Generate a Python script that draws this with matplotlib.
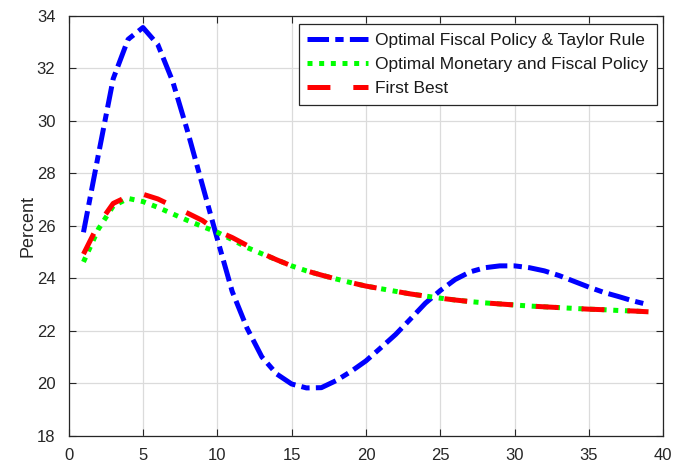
import matplotlib
matplotlib.use("Agg")
import matplotlib.pyplot as plt
import numpy as np

plt.rcParams['font.family'] = ['Liberation Sans', 'DejaVu Sans']
plt.rcParams['lines.scale_dashes'] = False

periods = list(range(1, 40))

taylor_rule = [25.75, 28.7, 31.6, 33.1, 33.55, 32.9, 31.5, 29.6, 27.55, 25.5,
               23.5, 22.1, 21.0, 20.35, 19.97, 19.82, 19.83, 20.1, 20.45, 20.85,
               21.35, 21.86, 22.45, 23.05, 23.53, 23.95, 24.24, 24.4, 24.47, 24.47,
               24.4, 24.28, 24.1, 23.88, 23.66, 23.46, 23.3, 23.13, 22.99]

optimal_mf = [24.62, 25.87, 26.75, 27.04, 26.92, 26.7, 26.45, 26.2, 25.97, 25.75,
              25.47, 25.17, 24.93, 24.7, 24.47, 24.28, 24.12, 23.97, 23.83, 23.7,
              23.6, 23.5, 23.4, 23.32, 23.24, 23.17, 23.11, 23.06, 23.02, 22.98,
              22.94, 22.91, 22.88, 22.85, 22.82, 22.8, 22.77, 22.75, 22.72]

first_best = [24.92, 26.05, 26.85, 27.12, 27.2, 27.02, 26.75, 26.48, 26.2, 25.8,
              25.55, 25.25, 24.95, 24.7, 24.47, 24.28, 24.12, 23.97, 23.83, 23.7,
              23.6, 23.5, 23.4, 23.32, 23.24, 23.17, 23.11, 23.06, 23.02, 22.98,
              22.94, 22.91, 22.88, 22.85, 22.82, 22.8, 22.77, 22.75, 22.72]

labels = ["Optimal Fiscal Policy & Taylor Rule",
          "Optimal Monetary and Fiscal Policy",
          "First Best"]

x_ticks = [0, 5, 10, 15, 20, 25, 30, 35, 40]
y_ticks = [18, 20, 22, 24, 26, 28, 30, 32, 34]

fig = plt.figure(figsize=(6.74, 4.65), dpi=100)
ax = fig.add_axes([0.1018, 0.063, 0.8823, 0.9032])

dark = (0.15, 0.15, 0.15)
lw = 3.6
ax.plot(periods, taylor_rule, color=(0, 0, 1), lw=lw, linestyle=(0, (15.5, 4.5, 6.0, 4.5)),
        solid_capstyle='butt', dash_capstyle='butt', label=labels[0], zorder=3)
ax.plot(periods, optimal_mf, color=(0, 1, 0), lw=lw, linestyle=(0, (3.6, 4.8)),
        dash_capstyle='butt', label=labels[1], zorder=4)
ax.plot(periods, first_best, color=(1, 0, 0), lw=lw, linestyle=(0, (16.5, 16.5)),
        dash_capstyle='butt', label=labels[2], zorder=5)

ax.set_xlim(0, 40)
ax.set_ylim(18, 34)
ax.set_xticks(x_ticks)
ax.set_yticks(y_ticks)
ax.tick_params(direction='in', length=5, width=0.8, colors=dark, labelsize=12,
               top=True, right=True)
ax.tick_params(axis='x', pad=9)
ax.tick_params(axis='y', pad=9.5)
ax.grid(True, color=(0.86, 0.86, 0.86), lw=0.9)
ax.set_axisbelow(True)
for sp in ax.spines.values():
    sp.set_color(dark)
    sp.set_linewidth(0.9)

ax.set_ylabel("Percent", fontsize=13, color=dark, labelpad=0)

leg = ax.legend(loc='upper right', bbox_to_anchor=(0.9889, 0.9802), borderaxespad=0,
                fontsize=12.5, frameon=True, fancybox=False,
                edgecolor=dark, framealpha=1, handlelength=3.5, handletextpad=0.4,
                borderpad=0.5, labelspacing=0.52)
leg.get_frame().set_linewidth(0.9)
for t in leg.get_texts():
    t.set_color((0.1, 0.1, 0.1))

fig.savefig("out.png", dpi=100)
